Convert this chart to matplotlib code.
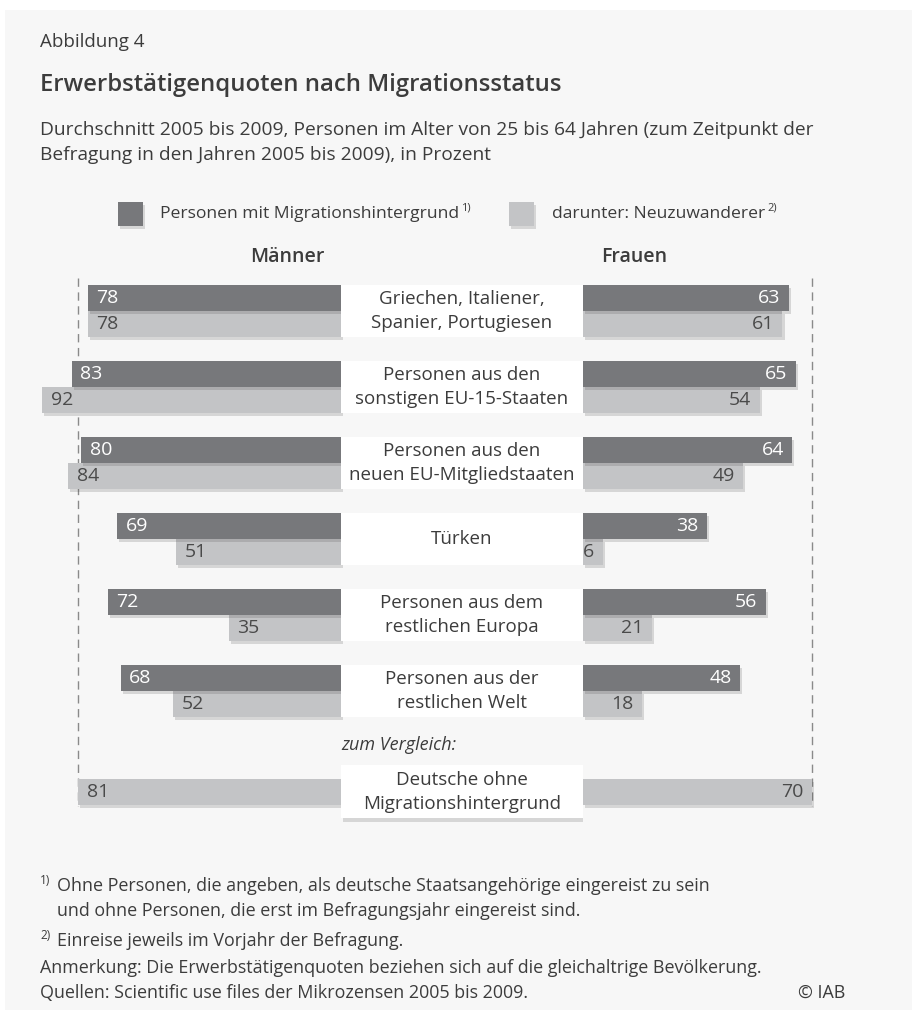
import matplotlib
matplotlib.use('Agg')
import matplotlib.pyplot as plt
import matplotlib.patheffects as pe
from matplotlib.patches import Rectangle

# data
groups = ['Griechen, Italiener,\nSpanier, Portugiesen',
          'Personen aus den\nsonstigen EU-15-Staaten',
          'Personen aus den\nneuen EU-Mitgliedstaaten',
          'Türken',
          'Personen aus dem\nrestlichen Europa',
          'Personen aus der\nrestlichen Welt']
men_migr = [78, 83, 80, 69, 72, 68]
men_new = [78, 92, 84, 51, 35, 52]
women_migr = [63, 65, 64, 38, 56, 48]
women_new = [61, 54, 49, 6, 21, 18]
german_label = 'Deutsche ohne\nMigrationshintergrund'
german_men = 81
german_women = 70

W, H = 917, 1021
DARK = '#77787b'
LIGHT = '#c3c4c6'
BG = '#f7f7f7'
TXT = '#3c3c3c'
FONT = ['Open Sans', 'DejaVu Sans']

plt.rcParams['font.family'] = FONT

fig = plt.figure(figsize=(W / 100, H / 100), dpi=100)
fig.patch.set_facecolor('white')
fig.patches.append(Rectangle((5 / W, 1 - 1010 / H), 907 / W, 1000 / H,
                             transform=fig.transFigure, facecolor=BG,
                             edgecolor='none', zorder=-10))


def fpos(x, y):
    return x / W, 1 - y / H


def add_ax(x0, x1, y0, y1):
    ax = fig.add_axes([x0 / W, 1 - y1 / H, (x1 - x0) / W, (y1 - y0) / H])
    ax.set_axis_off()
    return ax


def sup(artist, s):
    # small "1)" style mark right after a text
    fig.axes[0].annotate(s, xy=(1, 0.9), xycoords=artist, xytext=(1.5, 0),
                         textcoords='offset points', fontsize=8, color=TXT,
                         va='center', ha='left', annotation_clip=False)


# geometry (pixels)
S = 3.27  # px per percent
CL, CR = 343, 583
Y0, Y1 = 270, 835
ROW = 76.0
SPLIT0 = 311
ylim = ((Y1 - SPLIT0) / ROW, (Y0 - SPLIT0) / ROW)
bh = 26 / ROW

pos = list(range(len(groups)))
gpos = (792 - SPLIT0) / ROW

ax_m = add_ax(CL - 100 * S, CL, Y0, Y1)
ax_w = add_ax(CR, CR + 100 * S, Y0, Y1)
ax_c = add_ax(CL - 2, CR, Y0, Y1)
ax_m.set_xlim(100, 0)
ax_w.set_xlim(0, 100)
ax_c.set_xlim(0, 1)
for a in (ax_m, ax_w, ax_c):
    a.set_ylim(*ylim)

shadow = [pe.SimplePatchShadow(offset=(1.5, -2.5), shadow_rgbFace='#444',
                               alpha=0.18), pe.Normal()]

dark_y = [p - bh / 2 for p in pos]
light_y = [p + bh / 2 for p in pos]

# light bars first so the dark shadow falls on them
for ax, vals in ((ax_m, men_new), (ax_w, women_new)):
    bars = ax.barh(light_y, vals, height=bh, color=LIGHT, zorder=2)
    for b in bars:
        b.set_path_effects(shadow)
for ax, vals in ((ax_m, men_migr), (ax_w, women_migr)):
    bars = ax.barh(dark_y, vals, height=bh, color=DARK, zorder=3)
    for b in bars:
        b.set_path_effects(shadow)
for ax, v in ((ax_m, german_men), (ax_w, german_women)):
    b = ax.barh([gpos], [v], height=bh, color=LIGHT, zorder=2)[0]
    b.set_path_effects(shadow)
    ax.vlines(v, (278 - SPLIT0) / ROW, (806 - SPLIT0) / ROW,
              colors='#8a8a8a', linestyles=(0, (6, 4)), linewidth=1.0, zorder=1)

# value labels
pad = 2.6
lab_kw = dict(fontsize=14, va='center', zorder=5)
for y, v in zip(dark_y, men_migr):
    ax_m.text(v - pad, y, str(v), ha='left', color='white', **lab_kw)
for y, v in zip(light_y, men_new):
    ax_m.text(v - pad, y, str(v), ha='left', color='#4a4a4a', **lab_kw)
for y, v in zip(dark_y, women_migr):
    ax_w.text(v - pad, y, str(v), ha='right', color='white', **lab_kw)
for y, v in zip(light_y, women_new):
    ax_w.text(v - pad, y, str(v), ha='right', color='#4a4a4a', **lab_kw)
ax_m.text(german_men - pad, gpos, str(german_men), ha='left', color='#4a4a4a', **lab_kw)
ax_w.text(german_women - pad, gpos, str(german_women), ha='right', color='#4a4a4a', **lab_kw)

# centre label boxes
for p, g in zip(pos, groups):
    r = Rectangle((0, p - bh), 1, 2 * bh, facecolor='white', edgecolor='none', zorder=2)
    ax_c.add_patch(r)
    ax_c.text(0.5, p, g, ha='center', va='center', fontsize=13.5,
              color=TXT, linespacing=1.42, zorder=4)
r = Rectangle((0, gpos - 0.355), 1, 0.7, facecolor='white', edgecolor='none', zorder=2)
r.set_path_effects(shadow)
ax_c.add_patch(r)
ax_c.text(0.5, gpos, german_label, ha='center', va='center', fontsize=13.5,
          color=TXT, linespacing=1.42, zorder=4)
ax_c.text(0.0, (745 - SPLIT0) / ROW, 'zum Vergleich:', ha='left', va='center',
          fontsize=13, style='italic', color=TXT)

# headers
fig.text(*fpos(40, 42), 'Abbildung 4', fontsize=13.5, color=TXT, va='center')
fig.text(*fpos(40, 85), 'Erwerbstätigenquoten nach Migrationsstatus',
         fontsize=17.2, color=TXT, va='center', weight='semibold')
fig.text(*fpos(40, 130), 'Durchschnitt 2005 bis 2009, Personen im Alter von 25 bis 64 Jahren '
         '(zum Zeitpunkt der', fontsize=13.8, color=TXT, va='center')
fig.text(*fpos(40, 155), 'Befragung in den Jahren 2005 bis 2009), in Prozent',
         fontsize=13.8, color=TXT, va='center')

# legend
for x, c in ((118, DARK), (509, LIGHT)):
    sq = Rectangle(fpos(x, 226), 25 / W, 24 / H, transform=fig.transFigure,
                   facecolor=c, edgecolor='none')
    sq.set_path_effects(shadow)
    fig.patches.append(sq)
t1 = fig.text(*fpos(160, 214), 'Personen mit Migrationshintergrund', fontsize=12.6,
              color=TXT, va='center')
sup(t1, '1)')
t2 = fig.text(*fpos(552, 214), 'darunter: Neuzuwanderer', fontsize=12.6,
              color=TXT, va='center')
sup(t2, '2)')
fig.text(*fpos(287, 257), 'Männer', fontsize=14, color=TXT, va='center',
         ha='center', weight='semibold')
fig.text(*fpos(634, 257), 'Frauen', fontsize=14, color=TXT, va='center',
         ha='center', weight='semibold')

# footnotes
fn_kw = dict(fontsize=12.9, color=TXT, va='center')
fig.text(*fpos(40, 880), '1)', fontsize=8.5, color=TXT, va='center')
fig.text(*fpos(57, 886), 'Ohne Personen, die angeben, als deutsche Staatsangehörige eingereist zu sein', **fn_kw)
fig.text(*fpos(57, 911), 'und ohne Personen, die erst im Befragungsjahr eingereist sind.', **fn_kw)
fig.text(*fpos(40, 935), '2)', fontsize=8.5, color=TXT, va='center')
fig.text(*fpos(57, 941), 'Einreise jeweils im Vorjahr der Befragung.', **fn_kw)
fig.text(*fpos(40, 968), 'Anmerkung: Die Erwerbstätigenquoten beziehen sich auf die gleichaltrige Bevölkerung.', **fn_kw)
fig.text(*fpos(40, 993), 'Quellen: Scientific use files der Mikrozensen 2005 bis 2009.', **fn_kw)
fig.text(*fpos(845, 993), '© IAB', ha='right', **fn_kw)

fig.savefig('out.png', dpi=100, facecolor=fig.get_facecolor())
